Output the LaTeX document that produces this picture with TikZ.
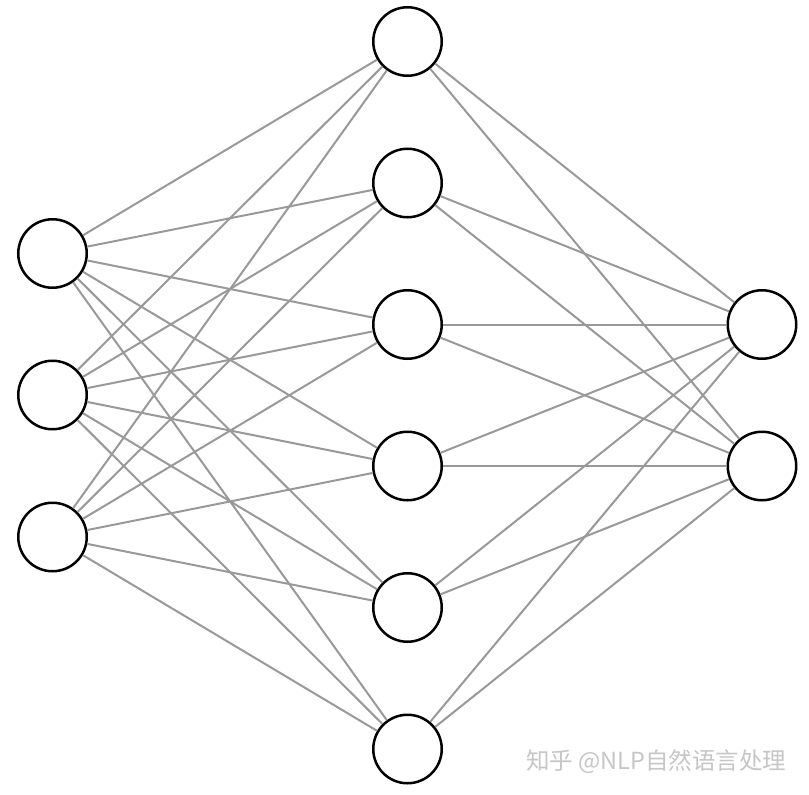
\documentclass[tikz,border=0pt]{standalone}
\usepackage{fontspec}
\newfontfamily\cjk{Noto Sans CJK SC}
\begin{document}
\begin{tikzpicture}[x=1pt,y=-1pt,
  neuron/.style={circle,draw=black,line width=2.5pt,fill=white,minimum size=68.5pt,inner sep=0pt},
  conn/.style={draw=gray!80,line width=2pt}]
\useasboundingbox (0,0) rectangle (809,795);
\fill[white] (0,0) rectangle (809,795);
\node[neuron] (i1) at (52.5,253.5) {};
\node[neuron] (i2) at (52.5,395) {};
\node[neuron] (i3) at (52.5,537) {};
\node[neuron] (h1) at (407.5,41.5) {};
\node[neuron] (h2) at (407.5,183) {};
\node[neuron] (h3) at (407.5,324.5) {};
\node[neuron] (h4) at (407.5,466) {};
\node[neuron] (h5) at (407.5,607.5) {};
\node[neuron] (h6) at (407.5,749) {};
\node[neuron] (o1) at (762,324.5) {};
\node[neuron] (o2) at (762,466) {};
\foreach \i in {i1,i2,i3}{
  \foreach \h in {h1,h2,h3,h4,h5,h6}{
    \draw[conn] (\i) -- (\h);
  }
}
\foreach \h in {h1,h2,h3,h4,h5,h6}{
  \foreach \o in {o1,o2}{
    \draw[conn] (\h) -- (\o);
  }
}
\node[text=gray!45,anchor=west,font=\cjk\fontsize{23.5pt}{25pt}\selectfont,inner sep=0pt] (wm) at (526,762) {知乎 @NLP自然语言处理};
\end{tikzpicture}
\end{document}
